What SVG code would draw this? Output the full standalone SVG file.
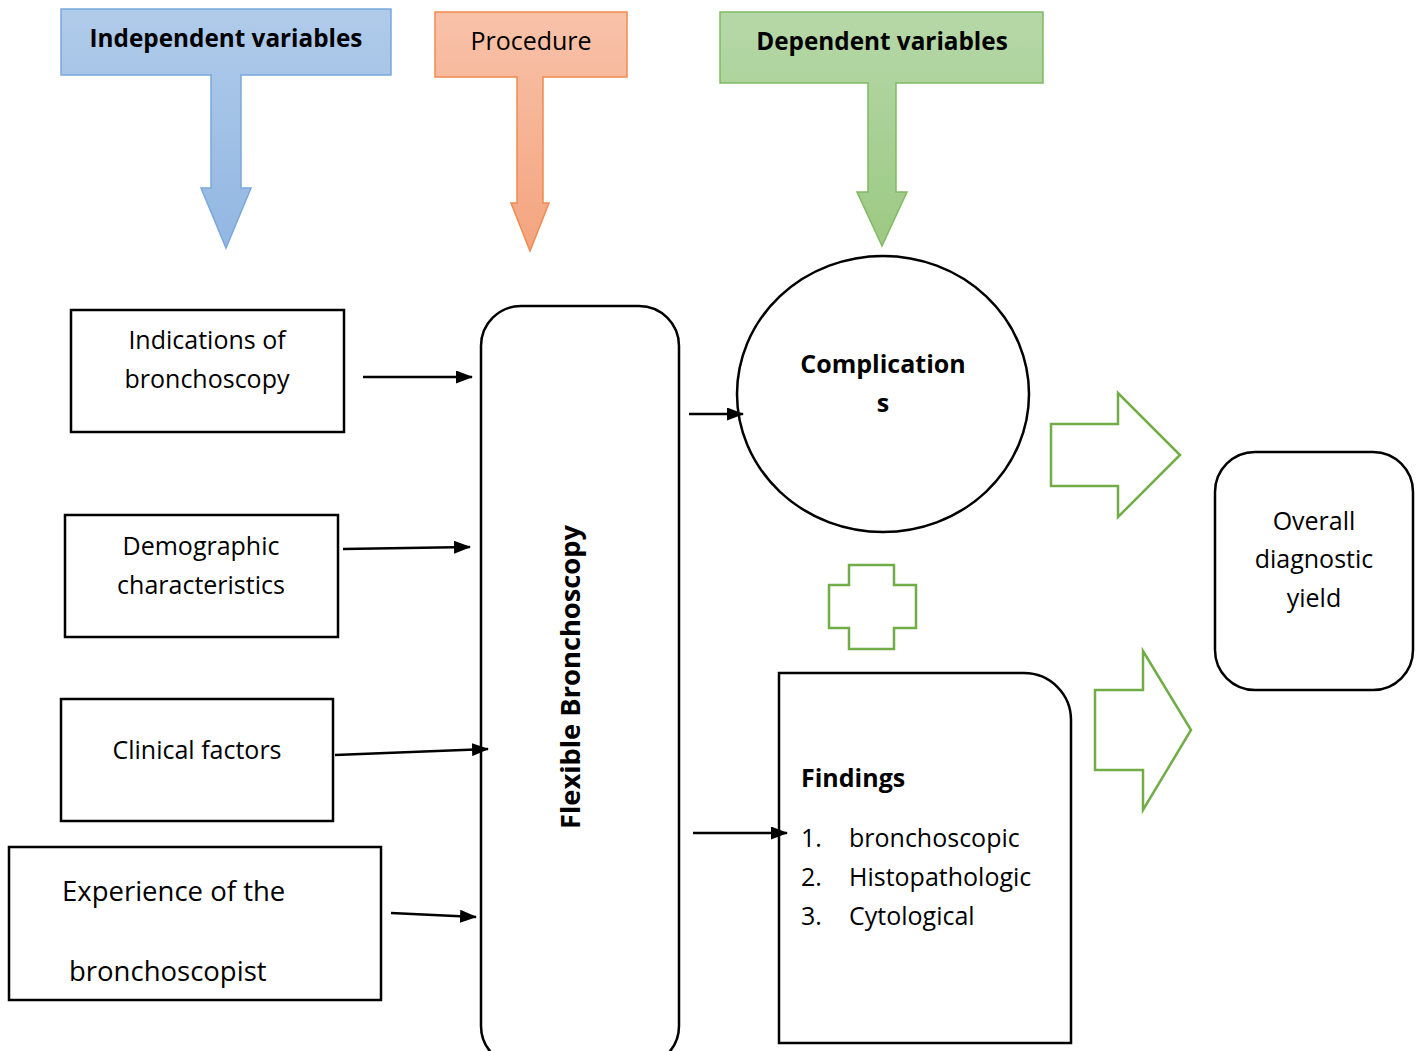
<svg xmlns="http://www.w3.org/2000/svg" width="1423" height="1051" viewBox="0 0 1423 1051">
<style>
text{font-family:"Open Sans","Noto Sans",sans-serif;font-size:25px;fill:#000}
.b{font-weight:bold}
.c{text-anchor:middle}
.h{font-size:24.3px}
.lg{font-size:27.5px}
.box{fill:#fff;stroke:#000;stroke-width:2.5}
.conn{stroke:#000;stroke-width:2.5;fill:none;marker-end:url(#ah)}
.garrow{fill:#fff;stroke:#70ad47;stroke-width:2.5;stroke-linejoin:miter}
</style>
<defs>
<marker id="ah" markerWidth="17" markerHeight="13" refX="16" refY="6.5" orient="auto" markerUnits="userSpaceOnUse">
<path d="M0,0 L17,6.5 L0,13 Z" fill="#000"/>
</marker>
<linearGradient id="gb" x1="0" y1="0" x2="0" y2="1"><stop offset="0" stop-color="#b0cbea"/><stop offset="1" stop-color="#92b7e2"/></linearGradient>
<linearGradient id="go" x1="0" y1="0" x2="0" y2="1"><stop offset="0" stop-color="#f8c2a9"/><stop offset="1" stop-color="#f4a47f"/></linearGradient>
<linearGradient id="gg" x1="0" y1="0" x2="0" y2="1"><stop offset="0" stop-color="#b6d8a8"/><stop offset="1" stop-color="#9cc983"/></linearGradient>
</defs>

<g id="header-independent">
<path d="M61,9 H391 V75 H241 V188 H251 L226,248 L201,188 H211 V75 H61 Z" fill="url(#gb)" stroke="#7aa8dc" stroke-width="1.5"/>
<text class="b c h" x="226" y="47">Independent variables</text>
</g>
<g id="header-procedure">
<path d="M435,12 H627 V77 H543 V203 H549 L530,251 L511,203 H517 V77 H435 Z" fill="url(#go)" stroke="#f08a50" stroke-width="1.5"/>
<text class="c" x="531" y="50">Procedure</text>
</g>
<g id="header-dependent">
<path d="M720,12 H1043 V83 H896 V192 H907 L882,246 L857,192 H868 V83 H720 Z" fill="url(#gg)" stroke="#80b964" stroke-width="1.5"/>
<text class="b c h" x="882" y="50">Dependent variables</text>
</g>

<g id="indications">
<rect class="box" x="71" y="310" width="273" height="122"/>
<text class="c" x="207" y="349">Indications of</text>
<text class="c" x="207" y="388">bronchoscopy</text>
</g>
<g id="demographic">
<rect class="box" x="65" y="515" width="273" height="122"/>
<text class="c" x="201" y="555">Demographic</text>
<text class="c" x="201" y="594">characteristics</text>
</g>
<g id="clinical">
<rect class="box" x="61" y="699" width="272" height="122"/>
<text class="c" x="197" y="759">Clinical factors</text>
</g>
<g id="experience">
<rect class="box" x="9" y="847" width="372" height="153"/>
<text class="lg" x="62" y="901">Experience of the</text>
<text class="lg" x="69" y="981">bronchoscopist</text>
</g>

<g id="flexible-bronchoscopy">
<rect class="box" x="481" y="306" width="198" height="760" rx="40"/>
<text class="b c" style="font-size:27.3px" transform="translate(580,677) rotate(-90)" x="0" y="0">Flexible Bronchoscopy</text>
</g>

<g id="complications">
<ellipse class="box" cx="883" cy="394" rx="146" ry="138"/>
<text class="b c" x="883" y="373">Complication</text>
<text class="b c" x="883" y="412">s</text>
</g>

<g id="plus">
<path class="garrow" d="M849,565 H894 V585 H916 V628 H894 V649 H849 V628 H829 V585 H849 Z"/>
</g>

<g id="findings">
<path class="box" d="M779,673 H1024 A47,47 0 0 1 1071,720 V1043 H779 Z"/>
<text class="b" x="801" y="787">Findings</text>
<text x="801" y="847">1.</text><text x="849" y="847">bronchoscopic</text>
<text x="801" y="886">2.</text><text x="849" y="886">Histopathologic</text>
<text x="801" y="925">3.</text><text x="849" y="925">Cytological</text>
</g>

<g id="overall">
<rect class="box" x="1215" y="452" width="198" height="238" rx="40"/>
<text class="c" x="1314" y="530">Overall</text>
<text class="c" x="1314" y="568">diagnostic</text>
<text class="c" x="1314" y="607">yield</text>
</g>

<g id="block-arrow-1">
<path class="garrow" d="M1051,424 H1118 V393 L1180,455 L1118,517 V486 H1051 Z"/>
</g>
<g id="block-arrow-2">
<path class="garrow" d="M1095,690 H1143 V651 L1191,730 L1143,810 V770 H1095 Z"/>
</g>

<g id="connectors">
<line class="conn" x1="363" y1="377" x2="472" y2="377"/>
<line class="conn" x1="343" y1="549" x2="470" y2="547"/>
<line class="conn" x1="335" y1="755" x2="488" y2="749"/>
<line class="conn" x1="391" y1="913" x2="476" y2="917"/>
<line class="conn" x1="689" y1="414" x2="743" y2="414"/>
<line class="conn" x1="693" y1="833" x2="787" y2="833"/>
</g>
</svg>
